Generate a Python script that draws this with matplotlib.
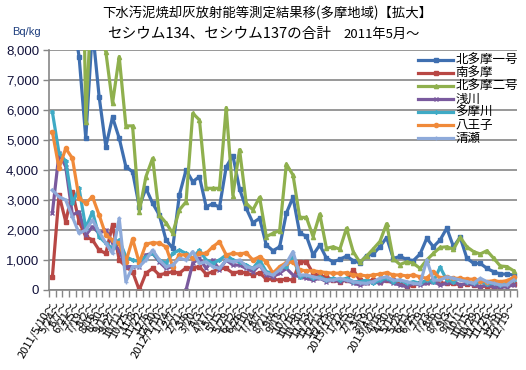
import numpy as np
import matplotlib
matplotlib.use('Agg')
import matplotlib.pyplot as plt

plt.rcParams['font.family'] = ['Noto Sans CJK JP', 'DejaVu Sans']

labels = [
    '2011/5/10～', '5/24～', '6/7～', '6/21～', '7/5～', '7/19～', '8/2～', '8/16～', '8/30～',
    '9/13～', '9/27～', '10/11～', '10/25～', '11/8～', '11/22～', '12/6～', '12/20～',
    '2012/1/10～', '1/24～', '2/7～', '2/21～', '3/6～', '3/20～', '4/3～', '4/17～', '5/1～',
    '5/15～', '5/29～', '6/12～', '6/26～', '7/10～', '7/24～', '8/7～', '8/21～', '9/4～',
    '9/18～', '10/2～', '10/16～', '10/30～', '11/13～', '11/27～', '12/11～', '12/25～',
    '2013/1/8～', '1/22～', '2/5～', '2/19～', '3/5～', '3/19～', '2013/4/2～', '4/16～',
    '4/30～', '5/14～', '5/28～', '6/11～', '6/25～', '7/9～', '7/23～', '8/6～', '8/20～',
    '9/3～', '9/17～', '10/1～', '10/15～', '10/29～', '11/12～', '11/26～', '12/5～',
    '12/10～', '12/19～',
]

series_names = ['北多摩一号', '南多摩', '北多摩二号', '浅川', '多摩川', '八王子', '清瀬']

kitatama1 = [11000, 10500, 9800, 9200, 7780, 5060, 8700, 6440, 4780, 5760,
             5060, 4110, 3940, 2780, 3390, 2890, 2500, 1670, 1390, 3170,
             4000, 3610, 3780, 2780, 2870, 2760, 4100, 4480, 3370, 2720,
             2240, 2390, 1500, 1310, 1440, 2560, 3090, 1890, 1800, 1170,
             1500, 1060, 940, 1020, 1130, 980, 900, 1150, 1200, 1440,
             1750, 1050, 1120, 1020, 980, 1200, 1720, 1440, 1670, 2060,
             1440, 1760, 1060, 890, 890, 720, 610, 530, 530, 500]

minamitama = [420, 3170, 2280, 3280, 2280, 1780, 1670, 1330, 1220, 2170,
              1000, 780, 610, 0, 560, 720, 500, 560, 610, 560,
              740, 740, 780, 530, 610, 720, 720, 560, 610, 560,
              500, 580, 360, 360, 330, 360, 330, 940, 940, 560,
              470, 440, 330, 280, 330, 670, 330, 280, 330, 280,
              330, 330, 220, 110, 170, 220, 280, 330, 240, 220,
              220, 170, 200, 170, 110, 130, 90, 110, 170, 200]

kitatama2 = [20000, 20000, 20000, 20000, 20000, 5610, 10400, 8600, 7940, 6220,
             7780, 5470, 5470, 2610, 3780, 4390, 2500, 2240, 1890, 2670,
             2940, 5890, 5670, 3390, 3390, 3390, 6080, 3150, 4680, 2890,
             2670, 3090, 1780, 1890, 1980, 4200, 3830, 2420, 2420, 1780,
             2530, 1390, 1440, 1360, 2060, 1280, 920, 1130, 1370, 1620,
             2210, 1040, 850, 940, 890, 720, 1000, 1220, 1420, 1440,
             1360, 1760, 1440, 1280, 1200, 1310, 1060, 800, 780, 640]

asakawa = [2560, 4560, 4110, 2500, 2610, 1830, 2110, 1890, 2000, 1560,
           1330, 780, 780, 780, 1170, 1220, 940, 720, 780, np.nan,
           0, 890, 1060, 720, 1000, 670, 1000, 830, 830, 720,
           610, 830, 500, 440, 560, 720, 500, 440, 390, 330,
           390, 280, 330, 280, 330, 220, 170, 220, 280, 220,
           330, 220, 170, 110, 220, 170, 220, 280, 170, 220,
           280, 170, 220, 170, 110, 170, 110, 90, 110, 170]

tamagawa = [5940, 4560, 4300, 2890, 3390, 2060, 2610, 1780, 1560, 1390,
            1670, 1110, 1000, 950, 1110, 1220, 1000, 890, 1220, 1330,
            1220, 1060, 1330, 1000, 890, 1000, 1170, 1000, 940, 830,
            720, 1000, 610, 560, 720, 780, 1110, 440, 500, 390,
            440, 330, 390, 330, 390, 280, 280, 330, 220, 330,
            390, 280, 330, 220, 280, 220, 330, 280, 760, 330,
            280, 390, 280, 220, 280, 200, 220, 170, 220, 330]

hachioji = [5280, 4060, 4720, 4390, 3060, 2890, 3110, 2500, 1830, 1670,
            1560, 940, 1700, 910, 1530, 1580, 1560, 1440, 780, 1170,
            1170, 1060, 1220, 1220, 1440, 1610, 1170, 1220, 1200, 1240,
            1000, 1110, 940, 560, 780, 910, 940, 670, 640, 640,
            610, 580, 560, 560, 580, 500, 500, 470, 500, 530,
            580, 500, 500, 470, 500, 440, 390, 610, 390, 440,
            390, 390, 360, 360, 310, 280, 310, 280, 310, 420]

kiyose = [3330, 3110, 3000, 2440, 1890, 2000, 2330, 1940, 1560, 1220,
          2390, 280, 780, 780, 1000, 1330, 1000, 780, 830, 1060,
          1000, 1280, 890, 940, 780, 720, 1000, 940, 1000, 780,
          720, 830, 560, 500, 670, 890, 1280, 500, 500, 440,
          390, 330, 330, 390, 330, 280, 240, 220, 280, 390,
          440, 330, 330, 280, 220, 200, 1000, 330, 330, 440,
          390, 330, 280, 220, 390, 280, 220, 170, 170, 330]

y_ticks = [0, 1000, 2000, 3000, 4000, 5000, 6000, 7000, 8000]

all_series = [kitatama1, minamitama, kitatama2, asakawa, tamagawa, hachioji, kiyose]
colors = ['#3F6FB0', '#B84744', '#8FB04E', '#7A5A9E', '#3FAAC5', '#F08A3A', '#8EAADA']
markers = ['s', 's', '^', 'x', (6, 2, 0), 'o', '+']

W, H = 526, 370
fig = plt.figure(figsize=(W / 100, H / 100), dpi=100)
ax = fig.add_axes([49 / W, 1 - 290 / H, (517 - 49) / W, 240 / H])

x = np.arange(len(labels))
for vals, name, c, m in zip(all_series, series_names, colors, markers):
    ax.plot(x, np.array(vals, dtype=float), color=c, lw=2.3, marker=m, ms=3,
            mfc=c, mec=c, mew=1.0, label=name, solid_joinstyle='round')

ax.set_xlim(-0.5, len(labels) - 0.5)
ax.set_ylim(0, 8000)
ax.set_yticks(y_ticks)
ax.set_yticklabels([f'{v:,}' for v in y_ticks], fontfamily='Liberation Sans',
                   fontsize=9.5, color='#10103a')
ax.yaxis.grid(True, color='#868686', lw=1.2)
ax.set_axisbelow(True)
for s in ['top', 'right']:
    ax.spines[s].set_visible(False)
for s in ['left', 'bottom']:
    ax.spines[s].set_color('#868686')
    ax.spines[s].set_linewidth(1.2)

ax.set_xticks(x)
ax.set_xticklabels(labels, rotation=60, ha='right', va='center',
                   rotation_mode='anchor', fontsize=8)
ax.tick_params(axis='x', which='major', length=0, pad=9)
ax.set_xticks(np.arange(-0.5, len(labels), 1), minor=True)
ax.tick_params(axis='x', which='minor', length=5, color='#868686', width=1, direction='out')
ax.tick_params(axis='y', length=4, color='#868686', width=1, pad=3)

leg = ax.legend(loc='upper left', bbox_to_anchor=(418 / W, 1 - 54 / H),
                bbox_transform=fig.transFigure, frameon=False, fontsize=9,
                handlelength=2.8, handletextpad=0.2, labelspacing=0.0,
                borderpad=0, borderaxespad=0)

fig.text(267 / W, 1 - 13 / H, '下水汚泥焼却灰放射能等測定結果移(多摩地域)【拡大】',
         ha='center', va='center', fontsize=9.6, color='black')
fig.text(107 / W, 1 - 34 / H, 'セシウム134、セシウム137の合計', ha='left', va='center',
         fontsize=10.5, color='black')
fig.text(343 / W, 1 - 34 / H, '2011年5月～', ha='left', va='center',
         fontsize=9.5, color='black')
fig.text(12 / W, 1 - 32 / H, 'Bq/kg', ha='left', va='center', fontsize=8,
         fontfamily='Liberation Sans', color='#1F3F7F')

fig.savefig('out.png', dpi=100)
